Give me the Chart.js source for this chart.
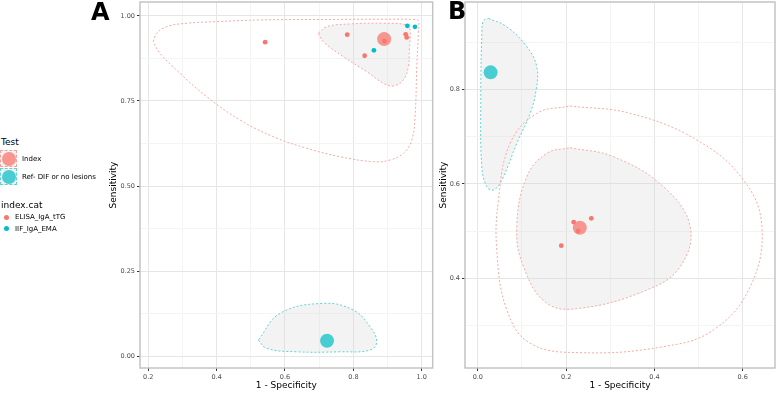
<!DOCTYPE html>
<html>
<head>
<meta charset="utf-8">
<script src="https://cdn.jsdelivr.net/npm/chart.js@4/dist/chart.umd.min.js"></script>
<style>
  body { margin: 0; background: #fff; font-family: "DejaVu Sans", sans-serif; }
  #wrap { position: relative; width: 777px; height: 393px; overflow: hidden; }
  canvas { position: absolute; top: 0; }
  .tag { position: absolute; font-weight: bold; font-size: 24px; color: #000; z-index: 5; }
  .lg { position: absolute; color: #000; white-space: nowrap; line-height: 10px; }
  .key { position: absolute; width: 17px; height: 17px; box-sizing: border-box; background: #f2f2f2; }
  .key i { position: absolute; left: 0.5px; top: 0.5px; width: 14px; height: 14px; border-radius: 50%; }
  .dot { position: absolute; width: 5px; height: 5px; border-radius: 50%; }
</style>
</head>
<body>
<div id="wrap">
  <canvas id="chartA" width="341" height="393" style="left:95px"></canvas>
  <canvas id="chartB" width="341" height="393" style="left:436px"></canvas>
  <div class="tag" style="left:91px;top:-2px">A</div>
  <div class="tag" style="left:448px;top:-3px">B</div>

  <div class="lg" style="left:1px;top:137px;font-size:9px">Test</div>
  <div class="key" style="left:0px;top:150px;border:1px dashed #f8a09a"><i style="background:rgba(248,118,109,0.75)"></i></div>
  <div class="lg" style="left:22px;top:154px;font-size:7px">Index</div>
  <div class="key" style="left:0px;top:168px;border:1px dashed #5fd3d6"><i style="background:rgba(0,191,196,0.7)"></i></div>
  <div class="lg" style="left:22px;top:172px;font-size:7px">Ref- DIF or no lesions</div>

  <div class="lg" style="left:1px;top:200px;font-size:9px">index.cat</div>
  <div class="dot" style="left:4px;top:215px;background:#F8766D"></div>
  <div class="lg" style="left:15px;top:212px;font-size:7px">ELISA_IgA_tTG</div>
  <div class="dot" style="left:4px;top:226px;background:#00BFC4"></div>
  <div class="lg" style="left:15px;top:224px;font-size:7px">IIF_IgA_EMA</div>
</div>

<script>
// ---- colours
var RED = "#F8766D";
var CYAN = "#00BFC4";

// ---- panel A : study estimates (1 - specificity, sensitivity)
var elisaA_x = [0.542, 0.782, 0.833, 0.891, 0.953, 0.956];
var elisaA_y = [0.923, 0.945, 0.883, 0.926, 0.946, 0.937];
var iifA_x = [0.860, 0.958, 0.980];
var iifA_y = [0.899, 0.971, 0.968];
// summary points (Index, Ref)
var summaryA_index = [0.890, 0.932];
var summaryA_ref = [0.723, 0.045];

// ---- panel A regions
var predA_index = [
  [0.2146, 0.9244], [0.2246, 0.9491], [0.2538, 0.9685], [0.3124, 0.9785], [0.4001, 0.9832],
  [0.5268, 0.9882], [0.7317, 0.9897], [0.9073, 0.9903], [0.9745, 0.9897], [0.9900, 0.9862],
  [0.9900, 0.9491], [0.9854, 0.8509], [0.9804, 0.7038], [0.9707, 0.6353], [0.9462, 0.5962],
  [0.9073, 0.5765], [0.8584, 0.5715], [0.7609, 0.5862], [0.6635, 0.6109], [0.5658, 0.6450],
  [0.4683, 0.6941], [0.3709, 0.7626], [0.2928, 0.8315], [0.2342, 0.8903]
];
var confA_index = [
  [0.6974, 0.9491], [0.7220, 0.9685], [0.7902, 0.9765], [0.8876, 0.9785], [0.9561, 0.9735],
  [0.9658, 0.9588], [0.9637, 0.9000], [0.9608, 0.8509], [0.9462, 0.8118], [0.9169, 0.7941],
  [0.8876, 0.8021], [0.8391, 0.8362], [0.7706, 0.8803], [0.7121, 0.9244]
];
var confA_ref = [
  [0.5219, 0.0471], [0.5465, 0.0226], [0.6342, 0.0126], [0.7609, 0.0126], [0.8487, 0.0176],
  [0.8683, 0.0421], [0.8487, 0.0862], [0.7999, 0.1353], [0.7121, 0.1550], [0.5854, 0.1256]
];

// ---- panel B : study estimates
var elisaB_x = [0.217, 0.257, 0.227, 0.189];
var elisaB_y = [0.519, 0.527, 0.500, 0.469];
var summaryB_index = [0.231, 0.507];
var summaryB_ref = [0.029, 0.836];

// ---- panel B regions
var confB_ref = [
  [0.0240, 0.9503], [0.0657, 0.9325], [0.1110, 0.8902], [0.1336, 0.8478], [0.1320, 0.7985],
  [0.1185, 0.7492], [0.0883, 0.6857], [0.0544, 0.6080], [0.0353, 0.5869], [0.0204, 0.5939],
  [0.0091, 0.6362], [0.0068, 0.7774], [0.0091, 0.9185], [0.0127, 0.9452]
];
var predB_index = [
  [0.2091, 0.7647], [0.3450, 0.7492], [0.4960, 0.6927], [0.6016, 0.6080], [0.6433, 0.5092],
  [0.6168, 0.3822], [0.5336, 0.2906], [0.4204, 0.2552], [0.2317, 0.2425], [0.1185, 0.2624],
  [0.0657, 0.3329], [0.0430, 0.4599], [0.0467, 0.5657], [0.0732, 0.6857], [0.1336, 0.7492]
];
var confB_index = [
  [0.2091, 0.6764], [0.3071, 0.6574], [0.4204, 0.5939], [0.4809, 0.5092], [0.4582, 0.4246],
  [0.3828, 0.3752], [0.2317, 0.3365], [0.1563, 0.3471], [0.1033, 0.4246], [0.0883, 0.5092],
  [0.1110, 0.6150], [0.1563, 0.6646]
];

// ---- ticks (major labelled, minor blank)
var ticksA_x = [0.2, 0.3, 0.4, 0.5, 0.6, 0.7, 0.8, 0.9, 1.0];
var labelsA_x = ["0.2", "", "0.4", "", "0.6", "", "0.8", "", "1.0"];
var ticksA_y = [0, 0.125, 0.25, 0.375, 0.5, 0.625, 0.75, 0.875, 1.0];
var labelsA_y = ["0.00", "", "0.25", "", "0.50", "", "0.75", "", "1.00"];
var ticksB_x = [0, 0.1, 0.2, 0.3, 0.4, 0.5, 0.6];
var labelsB_x = ["0.0", "", "0.2", "", "0.4", "", "0.6"];
var ticksB_y = [0.3, 0.4, 0.5, 0.6, 0.7, 0.8, 0.9];
var labelsB_y = ["", "0.4", "", "0.6", "", "0.8", ""];

function pts(xs, ys) {
  return xs.map(function (v, i) { return { x: v, y: ys[i] }; });
}
function loop(arr) {
  var d = arr.map(function (p) { return { x: p[0], y: p[1] }; });
  d.push({ x: arr[0][0], y: arr[0][1] });
  return d;
}
function region(arr, color, filled) {
  return {
    data: loop(arr), showLine: true, borderColor: color, borderWidth: 1,
    borderDash: [2, 2], pointRadius: 0, tension: 0.4,
    fill: filled ? "shape" : false, backgroundColor: "rgba(215,215,215,0.3)", order: 3
  };
}
function dots(data, color, r, order) {
  return { data: data, backgroundColor: color, borderWidth: 0, pointRadius: r, order: order };
}

var panelBorder = {
  id: "panelBorder",
  afterDraw: function (chart) {
    var a = chart.chartArea, c = chart.ctx;
    c.save();
    c.strokeStyle = "#c4c4c4";
    c.lineWidth = 1.5;
    c.strokeRect(a.left, a.top, a.right - a.left, a.bottom - a.top);
    c.restore();
  }
};

function axis(min, max, values, labels, title, isY, side) {
  return {
    type: "linear", min: min, max: max,
    afterBuildTicks: function (s) { s.ticks = values.map(function (v) { return { value: v }; }); },
    afterFit: function (s) {
      if (isY) s.width = side; else s.height = side;
      s.paddingTop = 0; s.paddingBottom = 0; s.paddingLeft = 0; s.paddingRight = 0;
    },
    ticks: {
      autoSkip: false, maxRotation: 0, padding: 2, color: "#4d4d4d",
      font: { family: "DejaVu Sans", size: 6.5 },
      callback: function (v, i) { return labels[i]; }
    },
    grid: {
      color: function (c) { return labels[c.index] === "" ? "#f4f4f4" : "#e6e6e6"; },
      tickColor: function (c) { return labels[c.index] === "" ? "rgba(0,0,0,0)" : "#333"; },
      tickLength: 3, lineWidth: 1
    },
    border: { display: false },
    title: {
      display: true, text: title, color: "#000",
      font: { family: "DejaVu Sans", size: 9 }, padding: { top: 0, bottom: 0 }
    }
  };
}

function panel(id, datasets, xs, ys, padLeft, padRight) {
  return new Chart(document.getElementById(id), {
    type: "scatter",
    data: { datasets: datasets },
    options: {
      responsive: false, animation: false,
      layout: { autoPadding: false, padding: { top: 2, right: padRight, left: padLeft, bottom: 2 } },
      plugins: { legend: { display: false }, tooltip: { enabled: false } },
      scales: { x: xs, y: ys }
    },
    plugins: [panelBorder]
  });
}

panel("chartA", [
  dots(pts(elisaA_x, elisaA_y), RED, 2.4, 0),
  dots(pts(iifA_x, iifA_y), CYAN, 2.4, 0),
  dots([{ x: summaryA_index[0], y: summaryA_index[1] }], "rgba(248,118,109,0.75)", 7, 1),
  dots([{ x: summaryA_ref[0], y: summaryA_ref[1] }], "rgba(0,191,196,0.7)", 7, 1),
  region(predA_index, "#f9a8a2", false),
  region(confA_index, "#f9a8a2", true),
  region(confA_ref, "#5fd3d6", true)
],
  axis(0.176, 1.032, ticksA_x, labelsA_x, "1 - Specificity", false, 23),
  axis(-0.035, 1.041, ticksA_y, labelsA_y, "Sensitivity", true, 32),
  13, 3.3);

panel("chartB", [
  dots(pts(elisaB_x, elisaB_y), RED, 2.4, 0),
  dots([{ x: summaryB_index[0], y: summaryB_index[1] }], "rgba(248,118,109,0.75)", 7, 1),
  dots([{ x: summaryB_ref[0], y: summaryB_ref[1] }], "rgba(0,191,196,0.7)", 7, 1),
  region(predB_index, "#f9a8a2", false),
  region(confB_index, "#f9a8a2", true),
  region(confB_ref, "#5fd3d6", true)
],
  axis(-0.029, 0.673, ticksB_x, labelsB_x, "1 - Specificity", false, 23),
  axis(0.210, 0.985, ticksB_y, labelsB_y, "Sensitivity", true, 27),
  2, 2);
</script>
</body>
</html>
